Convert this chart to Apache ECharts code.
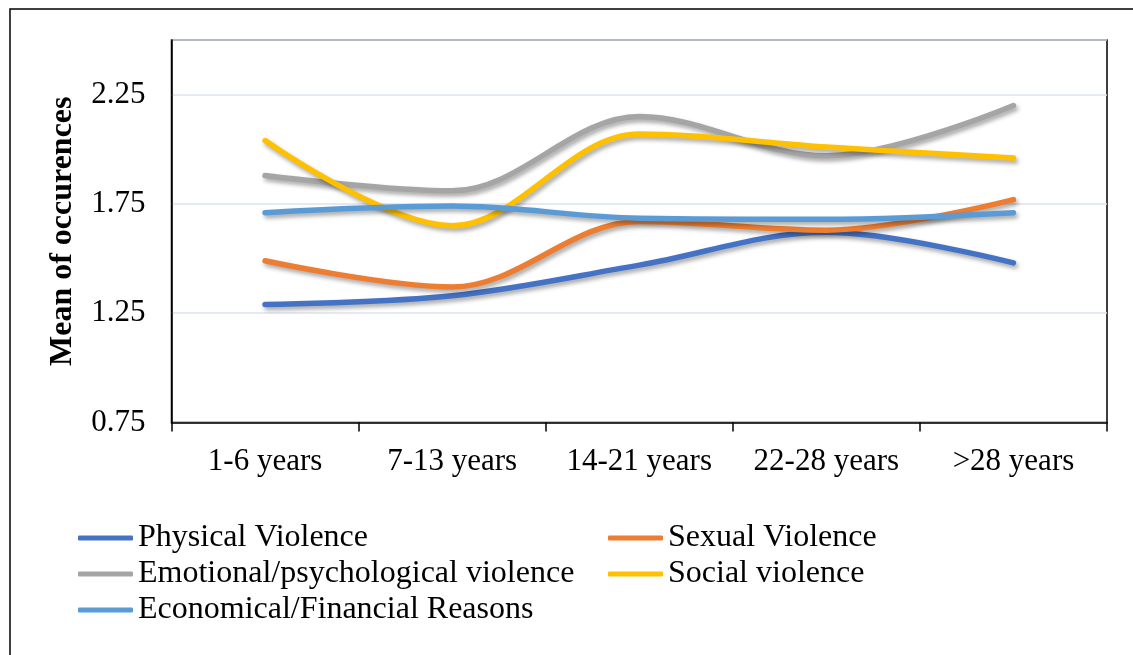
<!DOCTYPE html>
<html>
<head>
<meta charset="utf-8">
<title>Mean of occurences by marriage duration</title>
<script src="https://cdn.jsdelivr.net/npm/echarts@6/dist/echarts.min.js"></script>
<style>
  html, body { margin: 0; padding: 0; background: #fff; }
  #chart { width: 1133px; height: 655px; }
</style>
</head>
<body>
<div id="chart"></div>
<script>
// Marriage-duration groups on the x axis
const categories = ['1-6 years', '7-13 years', '14-21 years', '22-28 years', '>28 years'];

// Mean number of occurrences per type of violence
const physical = [1.29, 1.33, 1.47, 1.62, 1.48];
const sexual = [1.49, 1.37, 1.67, 1.63, 1.77];
const emotional = [1.88, 1.81, 2.15, 1.97, 2.20];
const social = [2.04, 1.65, 2.07, 2.01, 1.96];
const economical = [1.71, 1.74, 1.685, 1.68, 1.71];

const seriesNames = [
  'Physical Violence',
  'Sexual Violence',
  'Emotional/psychological violence',
  'Social violence',
  'Economical/Financial Reasons'
];
const seriesData = [physical, sexual, emotional, social, economical];
const seriesColors = ['#4472C4', '#ED7D31', '#A5A5A5', '#FFC000', '#5B9BD5'];

// Value axis: 0.75 to 2.5, a tick every 0.5
const yMin = 0.75;
const yMax = 2.5;
const yStep = 0.5;

const FONT = '"Liberation Serif", "Times New Roman", serif';

const chart = echarts.init(document.getElementById('chart'), null, { renderer: 'canvas' });

const legendText = { fontFamily: FONT, fontSize: 32, color: '#000', lineHeight: 36 };

function legendBlock(names, left) {
  return {
    data: names,
    orient: 'vertical',
    left: left,
    top: 515,
    icon: 'roundRect',
    itemWidth: 55,
    itemHeight: 5,
    itemGap: 0,
    textStyle: legendText
  };
}

chart.setOption({
  animation: false,
  backgroundColor: '#fff',
  graphic: [{
    type: 'rect',
    shape: { x: 10, y: 9, width: 1300, height: 800 },
    style: { fill: 'none', stroke: '#000', lineWidth: 1.5 },
    silent: true
  }],
  grid: {
    left: 171.5,
    top: 40,
    right: 26,
    bottom: 232.5,
    show: true,
    borderColor: '#000',
    borderWidth: 1.5,
    backgroundColor: 'transparent'
  },
  legend: [
    legendBlock([seriesNames[0], seriesNames[2], seriesNames[4]], 73),
    legendBlock([seriesNames[1], seriesNames[3]], 603)
  ],
  xAxis: {
    type: 'category',
    data: categories,
    boundaryGap: true,
    axisLine: { show: true, lineStyle: { color: '#000', width: 1.5 } },
    axisTick: { show: true, interval: 0, alignWithLabel: false, length: 9, lineStyle: { color: '#000', width: 1.5 } },
    axisLabel: { interval: 0, hideOverlap: false, fontFamily: FONT, fontSize: 31, color: '#000', margin: 24 },
    splitLine: { show: false }
  },
  yAxis: {
    type: 'value',
    min: yMin,
    max: yMax,
    interval: yStep,
    name: 'Mean of occurences',
    nameLocation: 'middle',
    nameGap: 93,
    nameRotate: 90,
    nameTextStyle: { fontFamily: FONT, fontSize: 32, fontWeight: 'bold', color: '#000' },
    axisLine: { show: true, lineStyle: { color: '#000', width: 1.5 } },
    axisTick: { show: false },
    axisLabel: {
      fontFamily: FONT, fontSize: 31, color: '#000', margin: 26,
      showMaxLabel: false,
      formatter: v => v.toFixed(2)
    },
    splitLine: { show: true, lineStyle: { color: '#DCE3EB', width: 1.5 } }
  },
  series: seriesData.map((d, i) => ({
    name: seriesNames[i],
    type: 'line',
    data: d,
    smooth: 0.35,
    symbol: 'none',
    color: seriesColors[i],
    lineStyle: {
      color: seriesColors[i],
      width: 5.5,
      cap: 'round',
      join: 'round',
      shadowColor: 'rgba(0,0,0,0.35)',
      shadowBlur: 4,
      shadowOffsetX: 2,
      shadowOffsetY: 3
    },
    emphasis: { disabled: true }
  }))
});
</script>
</body>
</html>
